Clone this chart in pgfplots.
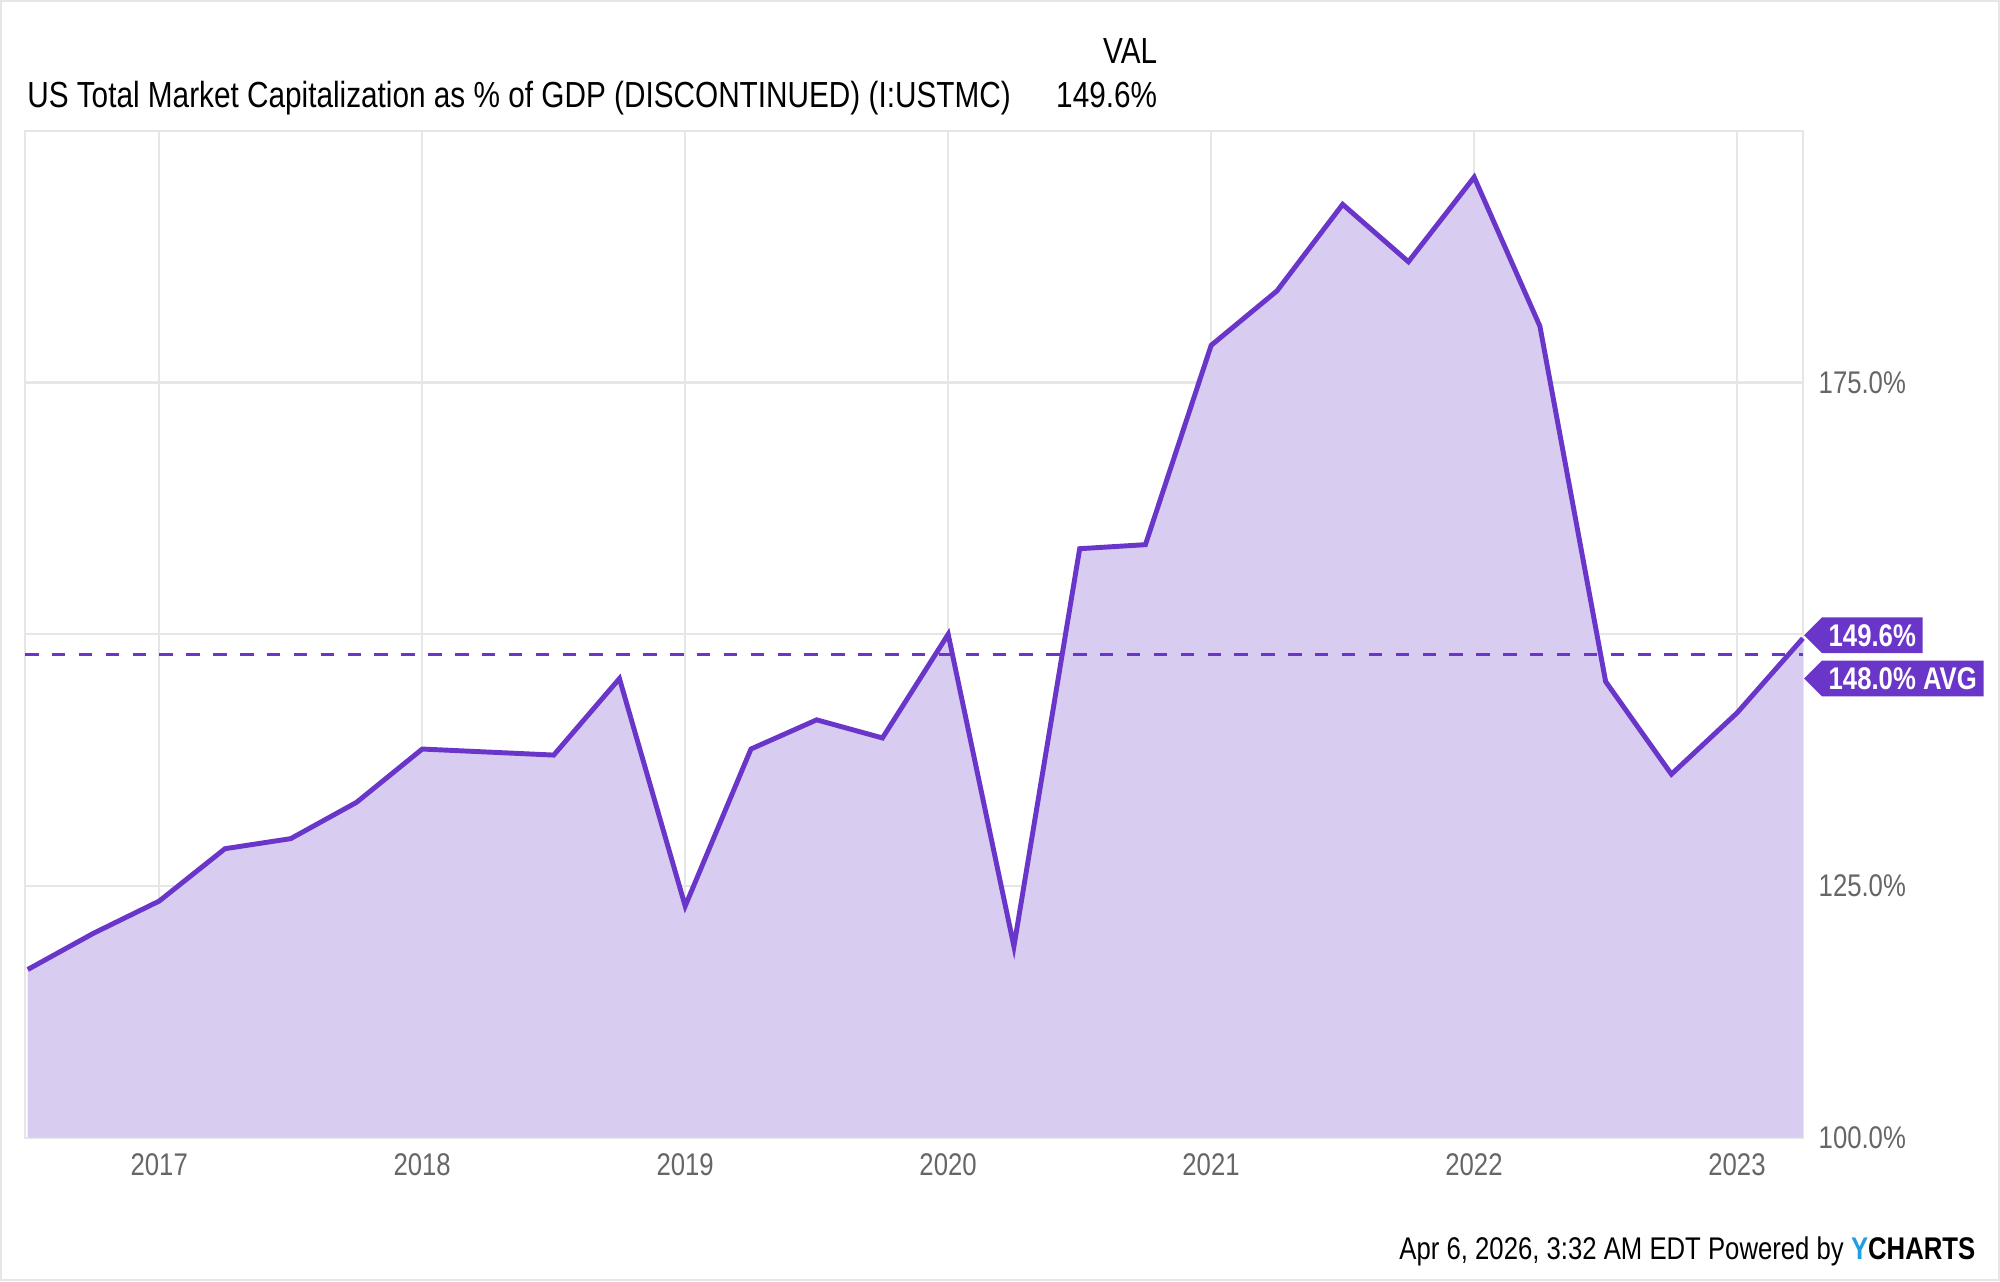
\documentclass[border=0pt]{standalone}
\usepackage{pgfplots}
\pgfplotsset{compat=1.18}
\usepackage{fontspec}
\setmainfont[FakeStretch=0.82]{Liberation Sans}
\usetikzlibrary{shapes.symbols}
\definecolor{ln}{HTML}{6A35C9}
\definecolor{fl}{HTML}{D8CDF0}
\definecolor{gr}{HTML}{E6E6E6}
\definecolor{tk}{HTML}{666666}
\begin{document}
\begin{tikzpicture}[x=1cm,y=1cm]
\path[draw=gr] (0,0) rectangle (15.68,10.04);
\node[anchor=base west,inner sep=0,font=\fontsize{8.1}{10}\selectfont] at (0.2,9.2) {US Total Market Capitalization as \% of GDP (DISCONTINUED) (I:USTMC)};
\node[anchor=base east,inner sep=0,font=\fontsize{8.1}{10}\selectfont] at (9.08,9.2) {149.6\%};
\node[anchor=base east,inner sep=0,font=\fontsize{8.1}{10}\selectfont] at (9.08,9.55) {VAL};
\node[anchor=base east,inner sep=0,font=\fontsize{7}{8}\selectfont] at (15.5,0.16) {Apr 6, 2026, 3:32 AM EDT Powered by \textcolor[HTML]{1F9FE0}{\bfseries Y}\textbf{CHARTS}};
\begin{axis}[at={(0.19cm,1.12cm)},anchor=south west,scale only axis,
 width=13.95cm,height=7.9cm,
 xmin=2016.49,xmax=2023.25,ymin=100,ymax=200,
 axis line style={draw=gr},
 xtick={2017,...,2023},
 xticklabel style={/pgf/number format/1000 sep={},font=\fontsize{7}{8}\selectfont,text=tk},
 ytick={100,125,150,175},
 yticklabels={100.0\%,125.0\%,150.0\%,175.0\%},
 yticklabel style={font=\fontsize{7}{8}\selectfont,text=tk,anchor=west},
 yticklabel pos=right,
 tick style={draw=none},
 grid=major,grid style={draw=gr,line width=0.5pt},
 /pgf/number format/assume math mode=true,
 clip=false]
\addplot[fill=fl,draw=none] coordinates {
(2016.5,116.7)(2016.75,120.3)(2017,123.5)(2017.25,128.7)(2017.5,129.7)(2017.75,133.3)
(2018,138.6)(2018.25,138.3)(2018.5,138.0)(2018.75,145.6)(2019,123.0)(2019.25,138.6)
(2019.5,141.5)(2019.75,139.7)(2020,150.0)(2020.25,119.0)(2020.5,158.5)(2020.75,158.9)
(2021,178.7)(2021.25,184.1)(2021.5,192.7)(2021.75,187.0)(2022,195.4)(2022.25,180.6)
(2022.5,145.3)(2022.75,136.1)(2023,142.2)(2023.25,149.6)} \closedcycle;
\addplot[ln,line width=1.1pt] coordinates {
(2016.5,116.7)(2016.75,120.3)(2017,123.5)(2017.25,128.7)(2017.5,129.7)(2017.75,133.3)
(2018,138.6)(2018.25,138.3)(2018.5,138.0)(2018.75,145.6)(2019,123.0)(2019.25,138.6)
(2019.5,141.5)(2019.75,139.7)(2020,150.0)(2020.25,119.0)(2020.5,158.5)(2020.75,158.9)
(2021,178.7)(2021.25,184.1)(2021.5,192.7)(2021.75,187.0)(2022,195.4)(2022.25,180.6)
(2022.5,145.3)(2022.75,136.1)(2023,142.2)(2023.25,149.6)};
\addplot[ln,dashed,line width=0.6pt] coordinates {(2016.49,148.0)(2023.25,148.0)};
\node[signal,signal to=west,fill=ln,text=white,font=\bfseries\fontsize{7}{8}\selectfont,anchor=west,inner sep=1.5pt,minimum height=0.27cm] at (axis cs:2023.25,149.9) {149.6\%\hspace{0.25cm}};
\node[signal,signal to=west,fill=ln,text=white,font=\bfseries\fontsize{7}{8}\selectfont,anchor=west,inner sep=1.5pt,minimum height=0.27cm] at (axis cs:2023.25,145.6) {148.0\% AVG};
\end{axis}
\end{tikzpicture}
\end{document}
